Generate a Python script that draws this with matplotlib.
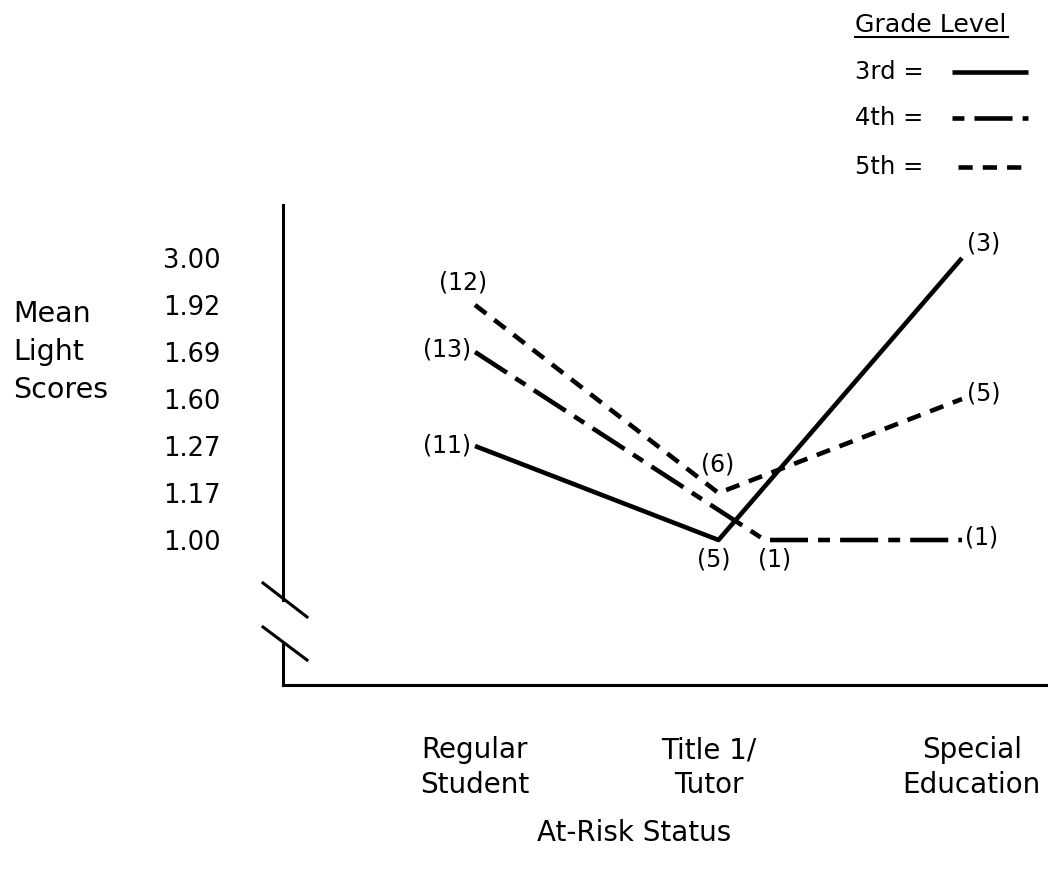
import numpy as np
import matplotlib.pyplot as plt
from matplotlib.lines import Line2D

# at-risk status categories and the (uneven) score scale printed on the y axis
categories = ["Regular\nStudent", "Title 1/\nTutor", "Special\nEducation"]
score_ticks = [1.00, 1.17, 1.27, 1.60, 1.69, 1.92, 3.00]

# mean light scores per grade
grade3 = [1.27, 1.00, 3.00]
grade4 = [1.69, 1.00, 1.00]
grade5 = [1.92, 1.17, 1.60]

# group sizes printed next to each point
n3 = [11, 5, 3]
n4 = [13, 1, 1]
n5 = [12, 6, 5]

plt.rcParams['font.family'] = ['DejaVu Sans']

W, H = 1048, 875
fig = plt.figure(figsize=(W / 100, H / 100), dpi=100)

# axes box: vertical line at x=283px, floor at y=685px
ax = fig.add_axes([283 / W, 1 - 685 / H, 1 - 283 / W, (685 - 205) / H])

def level(vals):
    # the printed scale is ordinal: each label is one step
    return [score_ticks.index(v) for v in vals]

x = np.arange(len(categories), dtype=float)
lw = 3.3
solid = "-"
dashdot = (0, (8.3, 2.2, 2.6, 2.2))
dashed = (0, (3.1, 2.2))

ax.plot(x, level(grade3), color="black", lw=lw, linestyle=solid, solid_capstyle="butt")
# 4th grade point at Title 1 drawn slightly to the right, as in the original
x4 = x + np.array([0, 0.19, 0])
ax.plot(x4, level(grade4), color="black", lw=lw, linestyle=dashdot, dash_capstyle="butt")
ax.plot(x, level(grade5), color="black", lw=lw, linestyle=dashed, dash_capstyle="butt")

lab_kw = dict(textcoords="offset pixels", fontsize=17, va="center")
y3, y4, y5 = level(grade3), level(grade4), level(grade5)
ax.annotate(f"({n3[0]})", (x[0], y3[0]), xytext=(-4, 0), ha="right", **lab_kw)
ax.annotate(f"({n3[1]})", (x[1], y3[1]), xytext=(-5, -19), ha="center", **lab_kw)
ax.annotate(f"({n3[2]})", (x[2], y3[2]), xytext=(5, 14), ha="left", **lab_kw)
ax.annotate(f"({n4[0]})", (x4[0], y4[0]), xytext=(-4, 2), ha="right", **lab_kw)
ax.annotate(f"({n4[1]})", (x4[1], y4[1]), xytext=(10, -19), ha="center", **lab_kw)
ax.annotate(f"({n4[2]})", (x4[2], y4[2]), xytext=(3, 2), ha="left", **lab_kw)
ax.annotate(f"({n5[0]})", (x[0], y5[0]), xytext=(-12, 22), ha="center", **lab_kw)
ax.annotate(f"({n5[1]})", (x[1], y5[1]), xytext=(-1, 28), ha="center", **lab_kw)
ax.annotate(f"({n5[2]})", (x[2], y5[2]), xytext=(5, 5), ha="left", **lab_kw)

# scales: x=0 at 475px, x=2 at 962px; level 0 at 540px, 47px per step
ax.set_xlim((283 - 475) / 243.5, (1048 - 475) / 243.5)
ax.set_ylim((540 - 685) / 47, (540 - 205) / 47)

ax.set_yticks(range(len(score_ticks)))
ax.set_yticklabels([f"{v:.2f}" for v in score_ticks])
ax.set_xticks([0, 0.96, 2.04])
ax.set_xticklabels(categories, multialignment="center", linespacing=1.3)
ax.tick_params(axis="y", length=0, pad=45, labelsize=18.5)
ax.tick_params(axis="x", length=0, pad=37, labelsize=20)

for s in ["top", "right", "left"]:
    ax.spines[s].set_visible(False)
ax.spines["bottom"].set_linewidth(2.2)

# broken y axis
tr = ax.transAxes
ax.add_line(Line2D([0, 0], [1, 0.177], transform=tr, color="black", lw=2.2, clip_on=False))
ax.add_line(Line2D([0, 0], [0.0875, 0], transform=tr, color="black", lw=2.2, clip_on=False))
ax.add_line(Line2D([-0.0261, 0.0314], [0.2125, 0.1417], transform=tr, color="black", lw=2.2, clip_on=False))
ax.add_line(Line2D([-0.0261, 0.0314], [0.1208, 0.052], transform=tr, color="black", lw=2.2, clip_on=False))

fig.text(13 / W, 1 - 352 / H, "Mean\nLight\nScores", ha="left", va="center",
         fontsize=20.5, linespacing=1.45)
fig.text(634 / W, 1 - 833 / H, "At-Risk Status", ha="center", va="center", fontsize=20)

# legend drawn by hand, like the original key
fig.text(855 / W, 1 - 25 / H, "Grade Level", ha="left", va="center", fontsize=18.2)
fig.add_artist(Line2D([855 / W, 1008 / W], [1 - 37 / H, 1 - 37 / H], color="black", lw=1.5))
key_labels = ["3rd =", "4th =", "5th ="]
key_styles = [solid, (10.5, (8.3, 2.2, 2.6, 2.2)), dashed]
key_y = [72, 118, 167]
key_x = [(952, 1028), (952, 1028), (958, 1022)]
for lab, ls, yy, (xa, xb) in zip(key_labels, key_styles, key_y, key_x):
    fig.text(855 / W, 1 - yy / H, lab, ha="left", va="center", fontsize=17.5)
    fig.add_artist(Line2D([xa / W, xb / W], [1 - yy / H, 1 - yy / H], color="black",
                          lw=lw, linestyle=ls, dash_capstyle="butt", solid_capstyle="butt"))

fig.savefig("out.png", dpi=100)
